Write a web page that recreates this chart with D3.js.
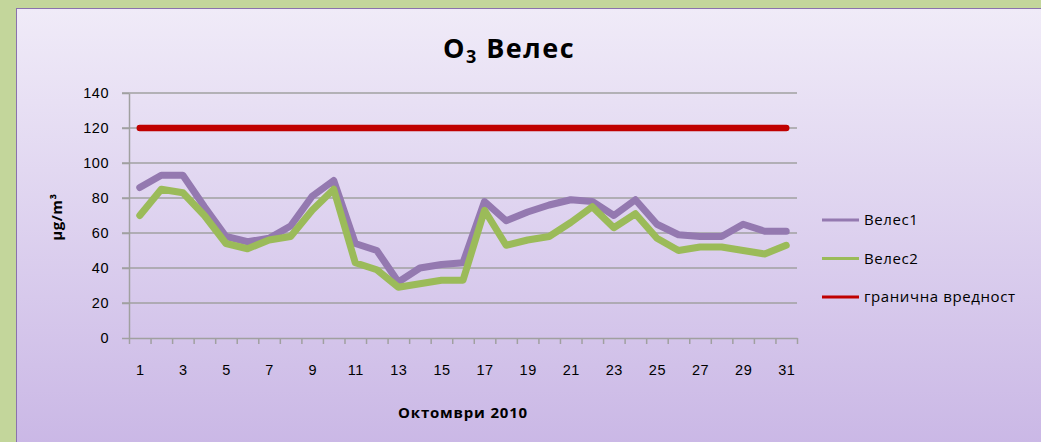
<!DOCTYPE html>
<html>
<head>
<meta charset="utf-8">
<script src="https://cdn.jsdelivr.net/npm/d3@7"></script>
<style>
  body { margin: 0; background: #c3d69b; }
  svg { display: block; font-family: "Comic Sans MS", "Open Sans", sans-serif; }
  .grid line { stroke: #a0a0a0; stroke-width: 1.5; }
  .axis path, .axis line { stroke: #a0a0a0; stroke-width: 1.5; }
  .axis text { fill: #000; font-size: 14.5px; letter-spacing: 0.5px; }
</style>
</head>
<body>
<svg id="chart" width="1041" height="442"></svg>
<script>
// days of October 2010
const days = d3.range(1, 32);
const veles1 = [86, 93, 93, 75, 58, 55, 57, 64, 81, 90, 54, 50, 32, 40, 42, 43,
                78, 67, 72, 76, 79, 78, 70, 79, 65, 59, 58, 58, 65, 61, 61];
const veles2 = [70, 85, 83, 70, 54, 51, 56, 58, 73, 85, 43, 39, 29, 31, 33, 33,
                73, 53, 56, 58, 66, 75, 63, 71, 57, 50, 52, 52, 50, 48, 53];
const limit = days.map(() => 120);
const yTicks = [0, 20, 40, 60, 80, 100, 120, 140];
const xLabels = days.filter(d => d % 2 === 1);

const series = [
  { name: 'Велес1', values: veles1, color: '#9479b0' },
  { name: 'Велес2', values: veles2, color: '#9bbb59' },
  { name: 'гранична вредност', values: limit, color: '#c00000' }
];

let svg = d3.select('#chart');

// background panel with gradient
let defs = svg.append('defs');
let grad = defs.append('linearGradient')
  .attr('id', 'bg')
  .attr('x1', 0).attr('y1', 0).attr('x2', 0).attr('y2', 1);
grad.append('stop').attr('offset', '0%').attr('stop-color', '#f0ebf8');
grad.append('stop').attr('offset', '100%').attr('stop-color', '#c9b6e5');

svg.append('rect')
  .attr('x', 16.5).attr('y', 8.5)
  .attr('width', 1041).attr('height', 450)
  .attr('fill', 'url(#bg)')
  .attr('stroke', '#8a72ad')
  .attr('stroke-width', 1);

let x = d3.scaleLinear().domain([0.5, 31.5]).range([129, 797]);
let y = d3.scaleLinear().domain([0, 140]).range([338, 93]);

// gridlines
svg.append('g')
  .attr('class', 'grid')
  .selectAll('line')
  .data(yTicks.filter(d => d > 0))
  .enter().append('line')
  .attr('x1', x(0.5) - 7).attr('x2', x(31.5))
  .attr('y1', d => y(d)).attr('y2', d => y(d));

// y axis
svg.append('g')
  .attr('class', 'axis')
  .attr('transform', 'translate(' + x(0.5) + ',0)')
  .call(d3.axisLeft(y).tickValues(yTicks).tickSize(7).tickSizeOuter(0).tickPadding(13));

// x axis: ticks on category boundaries
svg.append('g')
  .attr('class', 'axis')
  .attr('transform', 'translate(0,' + y(0) + ')')
  .call(d3.axisBottom(x).tickValues(d3.range(0.5, 32, 1)).tickSize(6).tickSizeOuter(0).tickFormat(''));

// x labels on odd days
svg.append('g')
  .attr('class', 'axis')
  .attr('transform', 'translate(0,' + y(0) + ')')
  .call(d3.axisBottom(x).tickValues(xLabels).tickSize(0).tickPadding(27).tickFormat(d3.format('d')))
  .call(g => g.select('.domain').remove());

// lines
let line = d3.line()
  .x((d, i) => x(days[i]))
  .y(d => y(d));

svg.append('g')
  .selectAll('path')
  .data(series)
  .enter().append('path')
  .attr('d', d => line(d.values))
  .attr('fill', 'none')
  .attr('stroke', d => d.color)
  .attr('stroke-width', d => d.name === 'гранична вредност' ? 6.5 : 7)
  .attr('stroke-linejoin', 'round')
  .attr('stroke-linecap', 'round');

// title
let title = svg.append('text')
  .attr('x', 509).attr('y', 58)
  .attr('text-anchor', 'middle')
  .attr('font-size', 27)
  .attr('font-weight', 'bold')
  .attr('letter-spacing', 1.5);
title.append('tspan').text('O');
title.append('tspan').attr('font-size', 18).attr('dy', 5).text('3');
title.append('tspan').attr('dy', -5).text(' Велес');

// axis titles
svg.append('text')
  .attr('transform', 'translate(62,217) rotate(-90)')
  .attr('text-anchor', 'middle')
  .attr('font-size', 15)
  .attr('font-weight', 'bold')
  .attr('letter-spacing', 0.5)
  .text('μg/m³');

svg.append('text')
  .attr('x', 463).attr('y', 418)
  .attr('text-anchor', 'middle')
  .attr('font-size', 15)
  .attr('font-weight', 'bold')
  .attr('letter-spacing', 0.8)
  .text('Октомври 2010');

// legend
let legend = svg.append('g')
  .selectAll('g')
  .data(series)
  .enter().append('g')
  .attr('transform', (d, i) => 'translate(822,' + (220 + i * 38.5) + ')');

legend.append('line')
  .attr('x1', 0).attr('x2', 37)
  .attr('stroke', d => d.color)
  .attr('stroke-width', 3);

legend.append('text')
  .attr('x', 42).attr('dy', '0.35em')
  .attr('font-size', 15)
  .attr('letter-spacing', 0.6)
  .text(d => d.name);
</script>
</body>
</html>
